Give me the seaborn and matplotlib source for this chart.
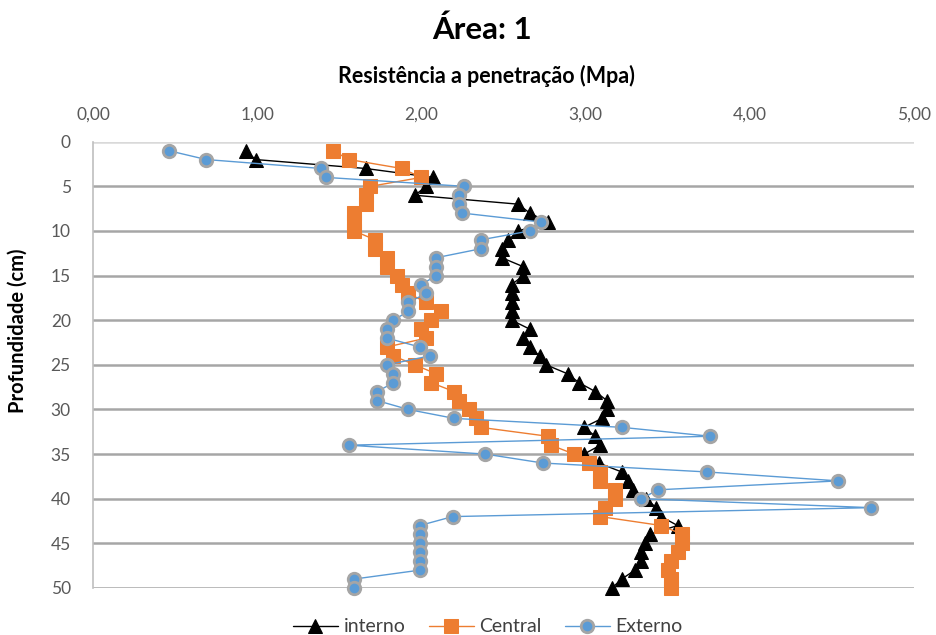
import numpy as np
import pandas as pd
import matplotlib.pyplot as plt
import seaborn as sb

depth = list(range(1, 51))

interno = [0.93, 0.99, 1.66, 2.07, 2.03, 1.96, 2.59, 2.66, 2.77, 2.59,
           2.53, 2.49, 2.49, 2.62, 2.62, 2.55, 2.55, 2.55, 2.55, 2.55,
           2.66, 2.62, 2.66, 2.72, 2.76, 2.89, 2.96, 3.06, 3.13, 3.13,
           3.10, 2.99, 3.06, 3.09, 2.99, 3.08, 3.22, 3.26, 3.29, 3.37,
           3.43, 3.46, 3.56, 3.39, 3.36, 3.34, 3.34, 3.30, 3.22, 3.16]

central = [1.46, 1.56, 1.88, 2.00, 1.69, 1.66, 1.66, 1.59, 1.59, 1.59,
           1.72, 1.72, 1.79, 1.79, 1.85, 1.88, 1.92, 2.03, 2.12, 2.06,
           2.00, 2.03, 1.79, 1.83, 1.96, 2.09, 2.06, 2.20, 2.23, 2.29,
           2.33, 2.36, 2.77, 2.79, 2.93, 3.02, 3.09, 3.09, 3.18, 3.18,
           3.12, 3.09, 3.46, 3.59, 3.59, 3.56, 3.52, 3.50, 3.52, 3.52]

externo = [0.46, 0.69, 1.39, 1.42, 2.26, 2.23, 2.23, 2.25, 2.73, 2.66,
           2.36, 2.36, 2.09, 2.09, 2.09, 2.00, 2.03, 1.92, 1.92, 1.83,
           1.79, 1.79, 1.99, 2.05, 1.79, 1.83, 1.83, 1.73, 1.73, 1.92,
           2.20, 3.22, 3.76, 1.56, 2.39, 2.74, 3.74, 4.54, 3.44, 3.34,
           4.74, 2.19, 1.99, 1.99, 1.99, 1.99, 1.99, 1.99, 1.59, 1.59]

series = ['interno', 'Central', 'Externo']
xticks = [0, 1, 2, 3, 4, 5]
yticks = list(range(0, 51, 5))

sb.set_style('white')
plt.rcParams['font.family'] = ['Lato', 'DejaVu Sans']

fig = plt.figure(figsize=(9.36, 6.35), dpi=100)
ax = fig.add_axes([93/936, 1 - 588/635, (914 - 93)/936, (588 - 141.7)/635])

# black triangles, orange squares, blue circles
styles = {
    'interno': dict(color='black', marker='^', markersize=10, markeredgecolor='black', linewidth=1),
    'Central': dict(color='#ED7D31', marker='s', markersize=10, markeredgecolor='#ED7D31', linewidth=1),
    'Externo': dict(color='#5B9BD5', marker='o', markersize=9, markeredgecolor='#A5A5A5',
                    markeredgewidth=2, linewidth=1),
}
data = {'interno': interno, 'Central': central, 'Externo': externo}

for name in series:
    sb.lineplot(x=data[name], y=depth, sort=False, estimator=None, ax=ax,
                label=name, clip_on=False, **styles[name])

ax.set_xlim(0, 5)
ax.set_ylim(50, 0)
ax.set_xticks(xticks)
ax.set_xticklabels(['%d,00' % t for t in xticks])
ax.set_yticks(yticks)
ax.xaxis.tick_top()
ax.tick_params(axis='both', length=0, labelsize=12.5, labelcolor='#595959')
ax.tick_params(axis='x', pad=14)
ax.tick_params(axis='y', pad=16)
ax.yaxis.grid(True, color='#A6A6A6', linewidth=1.8)
ax.xaxis.grid(False)
ax.set_axisbelow(True)
ax.get_ygridlines()[0].set_color('#D9D9D9')
for s in ['top', 'right', 'bottom']:
    ax.spines[s].set_visible(False)
ax.spines['left'].set_color('#BFBFBF')
ax.spines['left'].set_linewidth(1.2)
ax.set_xlabel('')
ax.set_ylabel('')

fig.text(482/936, 1 - 30/635, 'Área: 1', ha='center', va='center',
         fontsize=22.5, fontweight='bold', color='black')
fig.text(486/936, 1 - 76/635, 'Resistência a penetração (Mpa)', ha='center', va='center',
         fontsize=15.5, fontweight='bold', color='black')
fig.text(18/936, 1 - 331/635, 'Profundidade (cm)', ha='center', va='center', rotation=90,
         fontsize=14.5, fontweight='bold', color='black')

ax.legend(loc='center', bbox_to_anchor=(488/936, 1 - 627/635), bbox_transform=fig.transFigure,
          ncol=3, frameon=False, fontsize=14, handlelength=2.3, columnspacing=1.2,
          handletextpad=0.3, labelcolor='#404040')

fig.savefig('out.png', dpi=100)
